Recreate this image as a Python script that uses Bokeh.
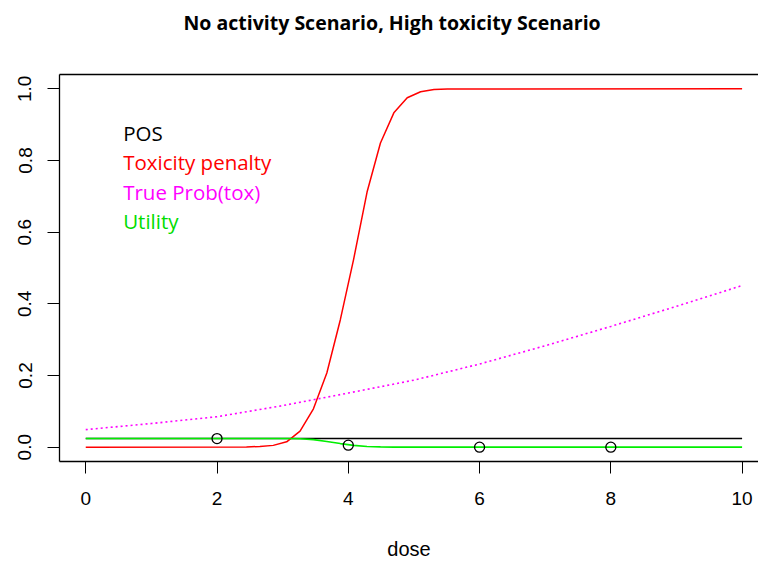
from bokeh.plotting import figure
from bokeh.models import LinearAxis, FixedTicker, Range1d, PrintfTickFormatter, Title
from bokeh.core.properties import value
from bokeh.embed import file_html
from bokeh.resources import INLINE

# ---- data ----
pos_dose = [0, 10]
pos_val = [0.024, 0.024]

pen_dose = [0, 2.449, 2.653, 2.857, 3.061, 3.265, 3.469, 3.673, 3.878, 4.082,
            4.286, 4.490, 4.694, 4.898, 5.102, 5.306, 5.510, 10]
pen_val = [0, 0.0007, 0.002, 0.005, 0.015, 0.045, 0.107, 0.207, 0.355, 0.525,
           0.712, 0.849, 0.933, 0.975, 0.992, 0.998, 0.9995, 1.0]

tox_dose = [0, 1, 2, 3, 4, 5, 6, 7, 8, 9, 10]
tox_val = [0.049, 0.066, 0.085, 0.116, 0.151, 0.187, 0.232, 0.283, 0.337, 0.393, 0.451]

util_dose = [0, 3.061, 3.265, 3.469, 3.673, 3.878, 4.082, 4.286, 4.490, 4.694, 10]
util_val = [0.024, 0.024, 0.0235, 0.021, 0.016, 0.010, 0.005, 0.002, 0.0008, 0.0002, 0]

obs_dose = [2, 4, 6, 8]
obs_val = [0.024, 0.0056, 0.0, 0.0]

legend_labels = ["POS", "Toxicity penalty", "True Prob(tox)", "Utility"]
legend_colors = ["black", "red", "#FF00FF", "#00DD00"]
legend_x = [0.57, 0.57, 0.57, 0.57]
legend_y = [0.876, 0.795, 0.712, 0.631]

x_ticks = [0, 2, 4, 6, 8, 10]
y_ticks = [0.0, 0.2, 0.4, 0.6, 0.8, 1.0]

title_text = "No activity Scenario, High toxicity Scenario"
x_label = "dose"

# ---- figure ----
p = figure(width=758, height=562, output_backend="svg", toolbar_location=None,
           x_range=Range1d(-0.4, 10.25), y_range=Range1d(-0.04, 1.04),
           x_axis_location=None, y_axis_location=None,
           min_border_left=59, min_border_right=0, min_border_top=73, min_border_bottom=100)
p.outline_line_color = None
p.xgrid.visible = False
p.ygrid.visible = False
p.background_fill_color = "white"
p.border_fill_color = "white"

tick_font = "Liberation Sans"

xa = LinearAxis(ticker=FixedTicker(ticks=x_ticks), axis_label=x_label)
xa.axis_line_color = "black"
xa.axis_line_width = 1.3
xa.major_tick_out = 12
xa.major_tick_in = 0
xa.minor_tick_line_color = None
xa.major_tick_line_color = "black"
xa.major_label_text_font = tick_font
xa.major_label_text_font_size = "19px"
xa.major_label_text_color = "black"
xa.major_label_standoff = 18
xa.axis_label_text_font = tick_font
xa.axis_label_text_font_size = "20px"
xa.axis_label_text_font_style = "normal"
xa.axis_label_text_color = "black"
xa.axis_label_standoff = 30
p.add_layout(xa, "below")

ya = LinearAxis(ticker=FixedTicker(ticks=y_ticks), formatter=PrintfTickFormatter(format="%.1f"))
ya.axis_line_color = "black"
ya.axis_line_width = 1.3
ya.major_tick_out = 12
ya.major_tick_in = 0
ya.minor_tick_line_color = None
ya.major_tick_line_color = "black"
ya.major_label_text_font = tick_font
ya.major_label_text_font_size = "19px"
ya.major_label_text_color = "black"
ya.major_label_orientation = "vertical"
ya.major_label_standoff = 16
p.add_layout(ya, "left")

# top side of the box; its blank label only reserves space below the title
ta = LinearAxis(ticker=FixedTicker(ticks=[]), axis_label=" ")
ta.axis_line_color = "black"
ta.axis_line_width = 1.3
ta.major_tick_line_color = None
ta.minor_tick_line_color = None
ta.major_label_text_font_size = "0px"
ta.axis_label_text_font_size = "20px"
ta.axis_label_standoff = 8
p.add_layout(ta, "above")

p.title = Title(text=title_text, align="left", offset=124, standoff=12,
                text_font="Open Sans", text_font_size="19.5px", text_font_style="bold",
                text_color="black")

# ---- data marks ----
p.line(pos_dose, pos_val, line_color="black", line_width=1.4)
p.line(pen_dose, pen_val, line_color="red", line_width=1.5)
p.line(tox_dose, tox_val, line_color="#FF00FF", line_width=1.6, line_dash="2 3")
p.line(util_dose, util_val, line_color="#00EE00", line_width=1.6)
p.scatter(obs_dose, obs_val, marker="circle", size=10, fill_color=None,
          line_color="black", line_width=1.3)

p.text(x=legend_x, y=legend_y, text=legend_labels, text_color=legend_colors,
       text_font=value("Open Sans"), text_font_size="20.5px",
       text_align="left", text_baseline="middle")

open("out.html", "w").write(file_html(p, INLINE))
